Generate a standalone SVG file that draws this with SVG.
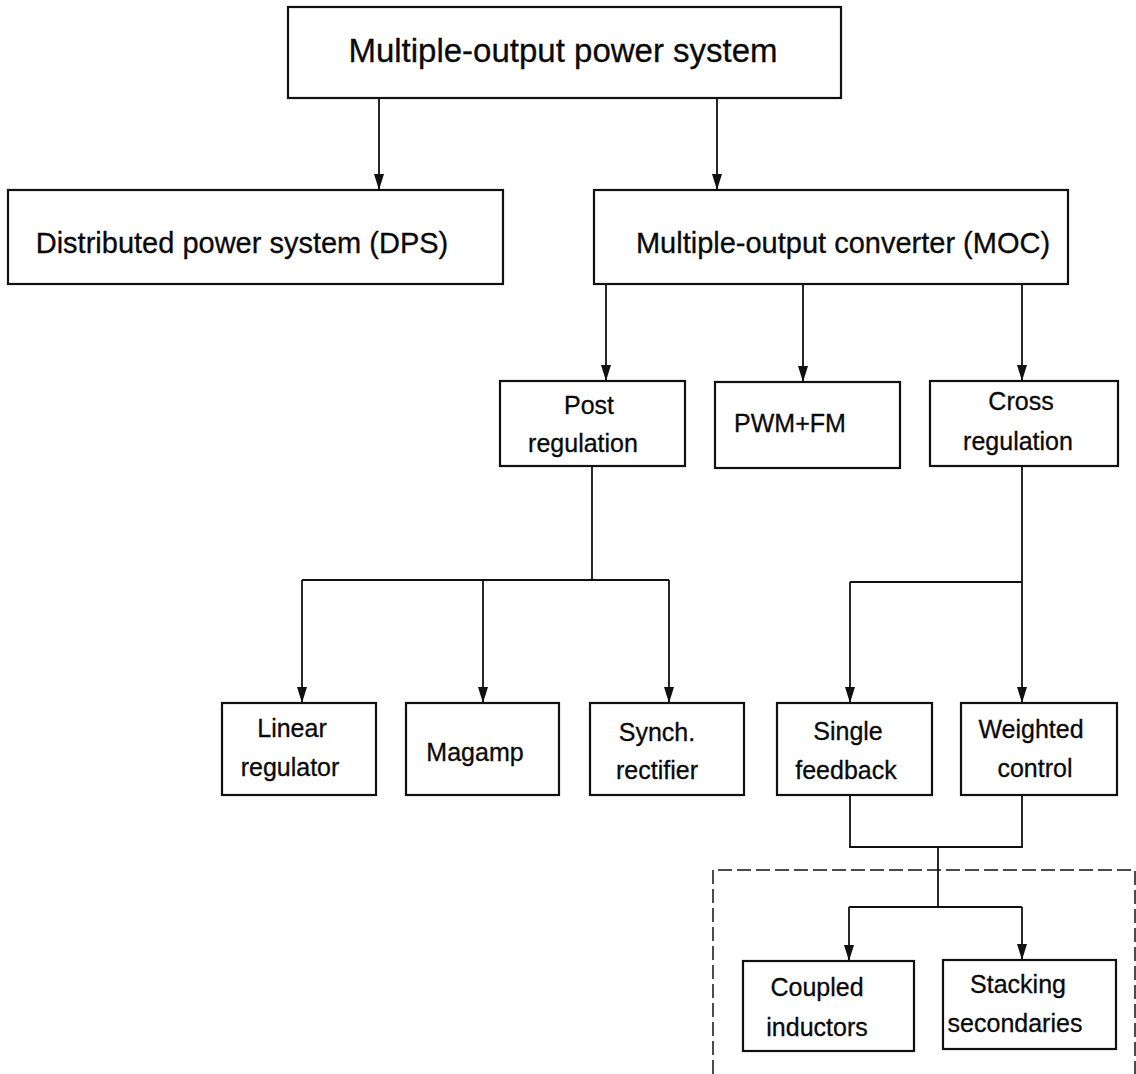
<svg xmlns="http://www.w3.org/2000/svg" width="1136" height="1074" viewBox="0 0 1136 1074">
<style>
.box{fill:#fff;stroke:#111;stroke-width:2.2}
.ln{fill:none;stroke:#111;stroke-width:1.8}
.t{font-family:"Liberation Sans",Arial,sans-serif;fill:#0a0a0a;text-anchor:middle;stroke:#0a0a0a;stroke-width:0.3}
.big{font-size:33px}
.med{font-size:29px}
.sm{font-size:25px}
</style>
<defs>
<marker id="ah" markerUnits="userSpaceOnUse" markerWidth="18" markerHeight="12" refX="16" refY="5" orient="auto">
<path d="M0,0 L16,5 L0,10 z" fill="#111"/>
</marker>
</defs>
<rect width="1136" height="1074" fill="#fff"/>
<g id="connectors">
<line class="ln" x1="379" y1="98" x2="379" y2="190" marker-end="url(#ah)"/>
<line class="ln" x1="717" y1="98" x2="717" y2="190" marker-end="url(#ah)"/>
<line class="ln" x1="606" y1="284" x2="606" y2="381" marker-end="url(#ah)"/>
<line class="ln" x1="803" y1="284" x2="803" y2="382" marker-end="url(#ah)"/>
<line class="ln" x1="1022" y1="284" x2="1022" y2="381" marker-end="url(#ah)"/>
<polyline class="ln" points="592,466 592,580"/>
<line class="ln" x1="302" y1="580" x2="669" y2="580"/>
<line class="ln" x1="302" y1="580" x2="302" y2="703" marker-end="url(#ah)"/>
<line class="ln" x1="483" y1="580" x2="483" y2="703" marker-end="url(#ah)"/>
<line class="ln" x1="669" y1="580" x2="669" y2="703" marker-end="url(#ah)"/>
<polyline class="ln" points="1022,466 1022,582"/>
<line class="ln" x1="850" y1="582" x2="1022" y2="582"/>
<line class="ln" x1="850" y1="582" x2="850" y2="703" marker-end="url(#ah)"/>
<line class="ln" x1="1022" y1="582" x2="1022" y2="703" marker-end="url(#ah)"/>
<polyline class="ln" points="850,795 850,847 1022,847 1022,795"/>
<line class="ln" x1="938" y1="847" x2="938" y2="907"/>
<line class="ln" x1="849" y1="907" x2="1022" y2="907"/>
<line class="ln" x1="849" y1="907" x2="849" y2="961" marker-end="url(#ah)"/>
<line class="ln" x1="1022" y1="907" x2="1022" y2="960" marker-end="url(#ah)"/>
<polyline fill="none" stroke="#111" stroke-width="1.5" stroke-dasharray="14,5" points="713,1074 713,870 1135,870 1135,1074"/>
</g>
<g id="n-top"><rect class="box" x="288" y="7" width="553" height="91"/><text class="t big" x="563" y="62">Multiple-output power system</text></g>
<g id="n-dps"><rect class="box" x="8" y="190" width="495" height="94"/><text class="t med" x="242" y="253">Distributed power system (DPS)</text></g>
<g id="n-moc"><rect class="box" x="594" y="190" width="474" height="94"/><text class="t med" x="843" y="253">Multiple-output converter (MOC)</text></g>
<g id="n-post"><rect class="box" x="500" y="381" width="185" height="85"/><text class="t sm" x="589" y="414">Post</text><text class="t sm" x="583" y="452">regulation</text></g>
<g id="n-pwm"><rect class="box" x="715" y="382" width="185" height="86"/><text class="t sm" x="790" y="432">PWM+FM</text></g>
<g id="n-cross"><rect class="box" x="930" y="381" width="188" height="85"/><text class="t sm" x="1021" y="410">Cross</text><text class="t sm" x="1018" y="450">regulation</text></g>
<g id="n-linear"><rect class="box" x="222" y="703" width="154" height="92"/><text class="t sm" x="292" y="737">Linear</text><text class="t sm" x="290" y="776">regulator</text></g>
<g id="n-magamp"><rect class="box" x="406" y="703" width="153" height="92"/><text class="t sm" x="475" y="761">Magamp</text></g>
<g id="n-synch"><rect class="box" x="590" y="703" width="154" height="92"/><text class="t sm" x="657" y="741">Synch.</text><text class="t sm" x="657" y="779">rectifier</text></g>
<g id="n-single"><rect class="box" x="777" y="703" width="155" height="92"/><text class="t sm" x="848" y="740">Single</text><text class="t sm" x="846" y="779">feedback</text></g>
<g id="n-weighted"><rect class="box" x="961" y="703" width="156" height="92"/><text class="t sm" x="1031" y="738">Weighted</text><text class="t sm" x="1035" y="777">control</text></g>
<g id="n-coupled"><rect class="box" x="743" y="961" width="171" height="90"/><text class="t sm" x="817" y="996">Coupled</text><text class="t sm" x="817" y="1036">inductors</text></g>
<g id="n-stacking"><rect class="box" x="943" y="960" width="173" height="89"/><text class="t sm" x="1018" y="993">Stacking</text><text class="t sm" x="1015" y="1032">secondaries</text></g>
</svg>
